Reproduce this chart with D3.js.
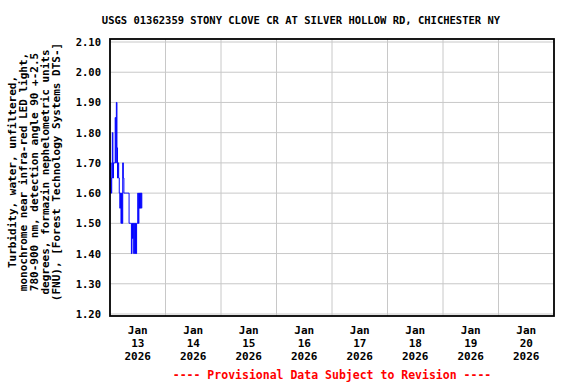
<!DOCTYPE html>
<html><head><meta charset="utf-8">
<script src="https://cdn.jsdelivr.net/npm/d3@7"></script>
<style>body{margin:0;background:#fff}svg{display:block}</style>
</head><body><svg id="c" width="576" height="384"></svg>
<script>
const title = "USGS 01362359 STONY CLOVE CR AT SILVER HOLLOW RD, CHICHESTER NY";
const yLabelLines = ["Turbidity, water, unfiltered,","monochrome near infra-red LED light,","780-900 nm, detection angle 90 +-2.5","degrees, formazin nephelometric units","(FNU), [Forest Technology Systems DTS-]"];
const yTicks = [1.20,1.30,1.40,1.50,1.60,1.70,1.80,1.90,2.00,2.10];
const dayLabels = ["13","14","15","16","17","18","19","20"];
const footer = "---- Provisional Data Subject to Revision ----";
// 15-minute values starting 2026-01-13 00:00
const startTime = "2026-01-13T00:00:00";
const values = [1.60,1.70,1.60,1.65,1.80,1.65,1.70,1.70,1.70,1.85,1.70,1.90,1.75,1.65,1.70,1.65,1.60,1.55,1.60,1.50,1.60,1.50,1.70,1.65,1.60,1.60,1.60,1.60,1.60,1.60,1.60,1.60,1.60,1.50,1.50,1.50,1.50,1.40,1.50,1.45,1.50,1.40,1.50,1.40,1.50,1.40,1.50,1.50,1.60,1.50,1.60,1.55,1.60,1.55,1.60,1.55];

const svg = d3.select("#c");
const L=110, R=554, T=42, B=314;
const t0 = new Date(startTime);
const x = d3.scaleTime().domain([new Date("2026-01-13T00:00:00"), new Date("2026-01-21T00:00:00")]).range([L,R]);
const y = d3.scaleLinear().domain([1.20,2.10]).range([B,T]);
const font = "'DejaVu Sans Mono', monospace";

// grid
svg.append("g").selectAll("line").data(yTicks).join("line")
  .attr("x1",L).attr("x2",R).attr("y1",d=>y(d)).attr("y2",d=>y(d))
  .attr("stroke","#c8c8c8").attr("stroke-width",1);
const days = d3.timeDay.range(new Date("2026-01-14T00:00:00"), new Date("2026-01-21T00:00:00"));
svg.append("g").selectAll("line").data(days).join("line")
  .attr("x1",d=>x(d)).attr("x2",d=>x(d)).attr("y1",39).attr("y2",316)
  .attr("stroke","#c8c8c8").attr("stroke-width",1);

// data
const data = values.map((v,i)=>({t:new Date(t0.getTime()+i*15*60000), v}));
svg.append("path").datum(data)
  .attr("d", d3.line().x(d=>x(d.t)).y(d=>y(d.v)).curve(d3.curveStepAfter))
  .attr("fill","none").attr("stroke","#0000ff").attr("stroke-width",1);

// frame
svg.append("rect").attr("x",L).attr("y",39).attr("width",R-L).attr("height",316-39)
  .attr("fill","none").attr("stroke","#000").attr("stroke-width",1.8);

// y tick labels
svg.append("g").selectAll("text").data(yTicks).join("text")
  .attr("x",101).attr("y",d=>y(d)+4).attr("text-anchor","end")
  .attr("font-family",font).attr("font-weight","bold").attr("font-size","10.5px")
  .text(d=>d.toFixed(2));

// x tick labels at noon
const noons = dayLabels.map((d,i)=>new Date(new Date("2026-01-13T12:00:00").getTime()+i*86400000));
const xl = svg.append("g").selectAll("text").data(noons).join("text")
  .attr("text-anchor","middle").attr("font-family",font).attr("font-weight","bold").attr("font-size","11px");
xl.each(function(d,i){
  const s=d3.select(this);
  ["Jan", dayLabels[i], "2026"].forEach((t,j)=>s.append("tspan").attr("x",x(d)).attr("y",334+j*13).text(t));
});

// title
svg.append("text").attr("x",301).attr("y",24).attr("text-anchor","middle")
  .attr("font-family",font).attr("font-weight","bold").attr("font-size","10.5px").text(title);

// y label
const yl = svg.append("text").attr("transform","translate(0,172) rotate(-90)")
  .attr("text-anchor","middle").attr("font-family",font).attr("font-weight","bold").attr("font-size","11px");
yLabelLines.forEach((t,i)=>yl.append("tspan").attr("x",0).attr("y",16+i*11).text(t));

// footer
svg.append("text").attr("x",332).attr("y",379).attr("text-anchor","middle")
  .attr("font-family",font).attr("font-weight","bold").attr("font-size","11.5px").attr("fill","#ff0000").text(footer);
</script></body></html>
